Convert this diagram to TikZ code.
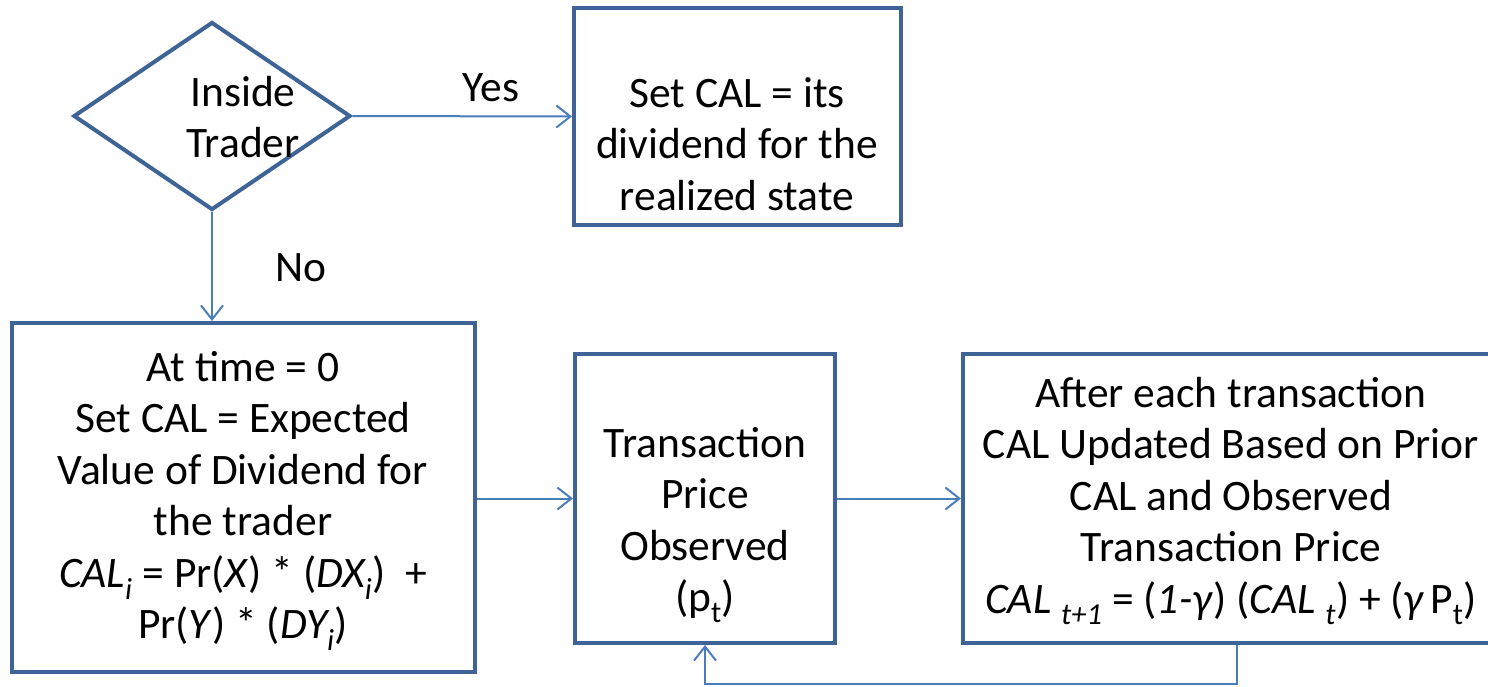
\documentclass[tikz,border=0pt]{standalone}
\usepackage{fontspec}
\setmainfont{Carlito}
\usetikzlibrary{shapes.geometric,arrows.meta}
\definecolor{boxblue}{HTML}{3E6497}
\definecolor{lineblue}{HTML}{4A7EBB}
\tikzset{
  box/.style={draw=boxblue,line width=4pt,rectangle,inner sep=0pt},
  dia/.style={draw=boxblue,line width=4pt,diamond,inner sep=0pt},
  txt/.style={align=center,font=\fontsize{43.5}{51.5}\selectfont,inner sep=0pt},
  conn/.style={draw=lineblue,line width=2pt,-{Straight Barb[length=14pt,width=22pt,line width=2pt]}},
  line/.style={draw=lineblue,line width=2pt}
}
\newcommand{\sbi}[1]{\textsubscript{#1}}
\begin{document}
\begin{tikzpicture}[x=1pt,y=-1pt]
\useasboundingbox (0,0) rectangle (1488,686);
\clip (0,0) rectangle (1488,686);
% shapes
\node[dia,minimum width=277pt,minimum height=188pt] (d) at (212,116) {};
\node[box,minimum width=327pt,minimum height=217pt] (top) at (737.5,116.5) {};
\node[box,minimum width=463pt,minimum height=349pt] (left) at (243.5,497.5) {};
\node[box,minimum width=260pt,minimum height=289pt] (mid) at (705,498.5) {};
\node[box,minimum width=529pt,minimum height=289pt] (right) at (1227.5,498.5) {};
% texts
\node[txt] (dt) at (243,117) {Inside\\Trader};
\node[txt] (tt) at (737,144) {Set CAL = its\\dividend for the\\realized state};
\node[txt] (lt) at (243,501) {At time = 0\\Set CAL = Expected\\Value of Dividend for\\the trader\\\textit{CAL\sbi{i}} = Pr(\textit{X}) * (\textit{DX\sbi{i}})~~+\\Pr(\textit{Y}) * (\textit{DY\sbi{i}})};
\node[txt] (mt) at (705,525) {Transaction\\Price\\Observed\\(p\sbi{t})};
\node[txt] (rt) at (1231,501) {After each transaction\\CAL Updated Based on Prior\\CAL and Observed\\Transaction Price\\\textit{CAL \sbi{t+1}} = (\textit{1-γ}) (\textit{CAL \sbi{t}}) + (\textit{γ\,}P\sbi{t})};
\node[txt] (yes) at (491,88) {Yes};
\node[txt] (no) at (301,268) {No};
% connectors
\draw[conn] (d.east) -- (top.west);
\draw[conn] (d.south) -- (left.north -| d.south);
\draw[conn] (left.east |- mid.west) -- (mid.west);
\draw[conn] (mid.east) -- (right.west);
\coordinate (fb) at (1237,684);
\draw[conn] (fb |- right.south) -- (fb) -| (mid.south);
\end{tikzpicture}
\end{document}
